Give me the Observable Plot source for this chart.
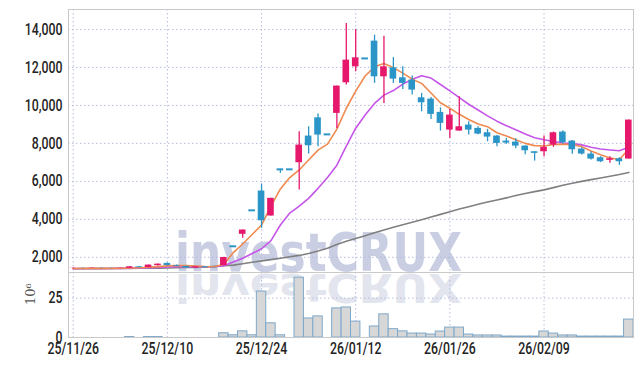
<!DOCTYPE html>
<html><head><meta charset="utf-8">
<script src="https://cdn.jsdelivr.net/npm/d3@7"></script>
<script src="https://cdn.jsdelivr.net/npm/@observablehq/plot@0.6"></script>
<style>
body{margin:0;background:#fff;}
#wrap{position:relative;width:641px;height:366px;overflow:hidden;background:#fff;}
#wm{position:absolute;left:0;top:0;}
#price,#vol{position:absolute;left:0;}
#price{top:0}
#vol{top:272px}
</style></head><body><div id="wrap"><svg id="wm" width="641" height="366"></svg><div id="price"></div><div id="vol"></div></div>
<script>
const dates = ["25/11/26","25/11/27","25/11/28","25/12/01","25/12/02","25/12/03","25/12/04","25/12/05","25/12/08","25/12/09","25/12/10","25/12/11","25/12/12","25/12/15","25/12/16","25/12/17","25/12/18","25/12/19","25/12/22","25/12/23","25/12/24","25/12/26","25/12/29","25/12/30","26/01/02","26/01/05","26/01/06","26/01/07","26/01/08","26/01/09","26/01/12","26/01/13","26/01/14","26/01/15","26/01/16","26/01/19","26/01/20","26/01/21","26/01/22","26/01/23","26/01/26","26/01/27","26/01/28","26/01/29","26/01/30","26/02/02","26/02/03","26/02/04","26/02/05","26/02/06","26/02/09","26/02/10","26/02/11","26/02/12","26/02/13","26/02/19","26/02/20","26/02/23","26/02/24","26/02/25"];
const open  = [1415,1420,1415,1420,1415,1410,1425,1500,1460,1560,1680,1570,1520,1440,1500,1450,1560,2580,3211,4474,5490,4174,6632,6632,6979,8384,9347,8474,9579,11190,12032,12474,13384,11505,11979,11453,11332,10400,10332,9632,8700,8647,8963,8789,8558,8384,8121,8068,7858,7558,7558,7910,8595,8121,7700,7437,7242,7105,7190,7174];
const high  = [1440,1430,1440,1430,1425,1430,1510,1520,1600,1650,1700,1590,1530,1510,1510,1470,2000,2580,3437,4474,5858,5105,6632,6632,8610,8873,9542,8474,11016,14316,14000,12474,13700,13647,12526,12032,11542,10632,10421,9874,9789,10453,9137,8874,8737,8421,8263,8242,7880,7570,8384,8595,8663,8150,7768,7558,7295,7295,7240,9226];
const low   = [1400,1405,1405,1405,1400,1400,1420,1450,1450,1540,1550,1520,1420,1430,1440,1430,1550,2580,3000,4474,3526,4174,6421,6632,5542,7437,7821,8474,8789,11068,11768,12474,11158,10105,11158,10842,10542,9663,9263,8647,8263,8647,8437,8453,8084,7821,7947,7716,7400,7068,7295,7790,7963,7421,7384,7121,6990,6947,6842,7174];
const close = [1425,1415,1425,1415,1410,1420,1500,1460,1590,1640,1570,1530,1440,1500,1450,1440,1990,2580,3437,4474,3926,5105,6632,6632,7910,7874,8437,8474,11016,12384,12505,12474,11505,12032,11384,11158,10805,10137,9526,9053,9489,8874,8700,8489,8332,7995,8016,7858,7611,7474,7790,8558,8032,7663,7437,7174,7032,7190,7032,9226];
const dojiUp = ["25/12/18"];
const volume = [0,0,0,0,0,0,0.3,0,0.3,0.3,0,0,0,0,0,0,2.7,1.4,3.9,1.4,29.2,9.0,1.4,0,38,12.1,13.4,0,18.5,19.1,10.1,0,7.0,14.7,5.3,3.9,2.5,2.5,1.9,3.8,6.3,6.3,1.9,1.3,1.3,1.3,0.6,0.6,0.6,0.6,3.8,2.5,1.3,1.3,0.6,0.6,0.6,0.6,0.6,11.4];
const ma5  = [1410,1415,1415,1415,1415,1420,1440,1450,1480,1510,1550,1570,1560,1540,1510,1500,1630,2250,2700,3200,3700,4700,5600,6200,6600,7121,7647,7963,8750,9850,10750,11550,12032,12210,11990,11700,11380,11160,10650,10140,9850,9530,9260,9020,8880,8560,8390,8190,8000,7880,7860,7940,7960,7940,7830,7600,7400,7230,7150,7700];
const ma10 = [1405,1408,1410,1410,1412,1415,1425,1435,1450,1470,1490,1505,1510,1510,1505,1505,1558,1750,1947,2200,2450,2880,3700,4330,4700,5105,5632,6200,6850,7850,8800,9490,10105,10540,10780,11120,11380,11560,11440,11100,10760,10410,10060,9760,9450,9170,8930,8720,8490,8300,8190,8100,8020,7990,7920,7800,7700,7650,7610,7790];
const ma60 = [1400,1400,1405,1405,1410,1410,1415,1420,1425,1430,1440,1450,1460,1470,1490,1520,1555,1590,1660,1740,1810,1880,1950,2030,2100,2200,2330,2480,2680,2840,2990,3140,3290,3440,3580,3720,3850,3980,4120,4260,4400,4540,4660,4790,4910,5020,5130,5250,5360,5460,5550,5670,5790,5900,6000,6090,6180,6270,6360,6470];
const priceTicks = [2000,4000,6000,8000,10000,12000,14000];
const volTicks = [0,25];

const data = dates.map((d,i)=>({date:d, open:open[i], high:high[i], low:low[i], close:close[i], vol:volume[i], ma5:ma5[i], ma10:ma10[i], ma60:ma60[i]}));
const UP="#e5186c", DOWN="#2b95c7";
const col = d => (d.close>d.open || (d.close===d.open && dojiUp.includes(d.date))) ? UP : DOWN;
const font = "Roboto,'DejaVu Sans',sans-serif";
const xTicks = dates.filter((d,i)=>i%10===0);
const xs = {type:"band", domain:dates, padding:0, round:false};
const grid = {stroke:"#b7bddb", strokeOpacity:1, strokeDasharray:"1.5,2.5"};
const st = {background:"transparent", fontFamily:font, fontSize:"16px", fontWeight:500, color:"#222"};

function narrow(svg){
  d3.select(svg).selectAll('g[aria-label$="tick label"] text').each(function(){
    const t = this.getAttribute("transform");
    if (t) this.setAttribute("transform", t + " scale(0.77,1)");
    else {
      const x = +this.getAttribute("x")||0, y = +this.getAttribute("y")||0;
      this.setAttribute("x",0); this.setAttribute("y",0);
      this.setAttribute("transform", `translate(${x},${y}) scale(0.77,1)`);
    }
  });
}

const price = Plot.plot({
  width:641, height:272, marginLeft:68, marginRight:8, marginTop:9, marginBottom:0,
  style:st,
  x:{...xs, axis:null},
  y:{domain:[1200,15050]},
  marks:[
    Plot.gridX(xTicks, grid),
    Plot.gridY(priceTicks, grid),
    Plot.axisY(priceTicks, {tickSize:0, tickPadding:6, tickFormat:d3.format(","), label:null}),
    Plot.line(data, {x:"date", y:"ma60", stroke:"#808080", strokeWidth:1.6}),
    Plot.line(data, {x:"date", y:"ma10", stroke:"#c656e8", strokeWidth:1.6}),
    Plot.line(data, {x:"date", y:"ma5", stroke:"#ef8a50", strokeWidth:1.6}),
    Plot.ruleX(data, {x:"date", y1:"low", y2:"high", stroke:col, strokeWidth:1.3}),
    Plot.barY(data.filter(d=>d.open!==d.close), {x:"date", y1:"open", y2:"close", fill:col, insetLeft:1.4, insetRight:1.4}),
    Plot.tickY(data.filter(d=>d.open===d.close), {x:"date", y:"close", stroke:col, strokeWidth:2, insetLeft:1.4, insetRight:1.4}),
    Plot.frame({stroke:"#c9c9c9"})
  ]
});
narrow(price);
document.getElementById("price").appendChild(price);

const vol = Plot.plot({
  width:641, height:94, marginLeft:68, marginRight:8, marginTop:0, marginBottom:29,
  style:st,
  x:{...xs},
  y:{domain:[0,41.3]},
  marks:[
    Plot.gridX(xTicks, grid),
    Plot.gridY([25], grid),
    Plot.barY(data, {x:"date", y:"vol", fill:"#d7d7d7", stroke:"#7ea8ca", strokeWidth:1}),
    Plot.axisX(xTicks, {tickSize:0, tickPadding:5, label:null}),
    Plot.axisY(volTicks, {tickSize:0, tickPadding:6, label:null}),
    Plot.text(["10⁶"], {frameAnchor:"left", dx:-38, rotate:-90, fontFamily:"'DejaVu Serif',serif", fontSize:13, fontWeight:400, fill:"#555"}),
    Plot.frame({stroke:"#c9c9c9"})
  ]
});
narrow(vol);
document.getElementById("vol").appendChild(vol);

// watermark
const wm = d3.select("#wm");
wm.append("text").attr("x",175).attr("y",271).attr("textLength",287).attr("lengthAdjust","spacingAndGlyphs")
  .attr("font-family","'DejaVu Sans',sans-serif").attr("font-weight","bold").attr("font-size",54)
  .attr("fill","#c9cee3").text("investCRUX");
wm.append("g").attr("transform","translate(0,274) scale(1,-0.72) translate(0,-271)")
  .append("text").attr("x",175).attr("y",271).attr("textLength",287).attr("lengthAdjust","spacingAndGlyphs")
  .attr("font-family","'DejaVu Sans',sans-serif").attr("font-weight","bold").attr("font-size",54)
  .attr("fill","#e2e4ee").text("investCRUX");
</script></body></html>
